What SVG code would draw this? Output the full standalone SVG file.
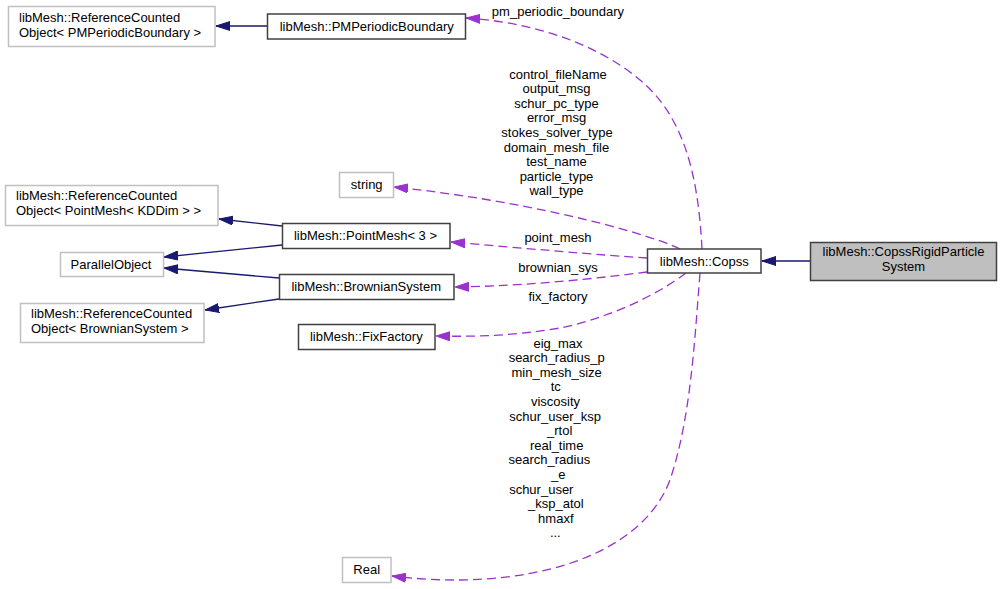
<svg xmlns="http://www.w3.org/2000/svg" width="1003" height="589" viewBox="0 0 1003 589">
<defs>
<style>
text{font-family:"Liberation Sans",Arial,Helvetica,sans-serif;font-size:13px;fill:#000}
.m{text-anchor:middle}
.s{text-anchor:start}
.doc{fill:#fff;stroke:#404040;stroke-width:1.5}
.und{fill:#fff;stroke:#c0c0c0;stroke-width:1.5}
.cur{fill:#bfbfbf;stroke:#404040;stroke-width:1.5}
.inh{fill:none;stroke:#191970;stroke-width:1.3}
.use{fill:none;stroke:#9a32cd;stroke-width:1.3;stroke-dasharray:9,5}
</style>
<marker id="an" markerUnits="userSpaceOnUse" markerWidth="14" markerHeight="10" viewBox="0 0 14 10" refX="14" refY="5" orient="auto">
<path d="M0,0.5 L14,5 L0,9.5 z" fill="#191970" stroke="#191970"/>
</marker>
<marker id="ap" markerUnits="userSpaceOnUse" markerWidth="14" markerHeight="10" viewBox="0 0 14 10" refX="14" refY="5" orient="auto">
<path d="M0,0.5 L14,5 L0,9.5 z" fill="#9a32cd" stroke="#9a32cd"/>
</marker>
</defs>
<rect width="1003" height="589" fill="#fff"/>

<g id="connectors">
<line class="inh" x1="810" y1="261" x2="762" y2="261" marker-end="url(#an)"/>
<line class="inh" x1="267" y1="26" x2="216" y2="26" marker-end="url(#an)"/>
<line class="inh" x1="282" y1="226" x2="219" y2="219" marker-end="url(#an)"/>
<line class="inh" x1="282" y1="245" x2="164" y2="257" marker-end="url(#an)"/>
<line class="inh" x1="279" y1="278" x2="164" y2="268" marker-end="url(#an)"/>
<line class="inh" x1="279" y1="299" x2="205" y2="310" marker-end="url(#an)"/>

<path class="use" d="M702,249 C698,170 682,115 640,80 C595,42 530,22 466,18" marker-end="url(#ap)"/>
<path class="use" d="M680,249 C640,230 520,200 394,187" marker-end="url(#ap)"/>
<path class="use" d="M647,258 C600,255 520,248 451,242" marker-end="url(#ap)"/>
<path class="use" d="M647,272 C600,278 530,286 455,287" marker-end="url(#ap)"/>
<path class="use" d="M686,273 C650,300 600,320 560,328 C520,335 480,337 436,336" marker-end="url(#ap)"/>
<path class="use" d="M700,273 C694,350 690,420 670,480 C640,560 520,592 392,576" marker-end="url(#ap)"/>

<text class="m" x="558" y="15.5">pm_periodic_boundary</text>
<text class="m" x="558" y="78.5">control_fileName</text>
<text class="m" x="556.5" y="93.1">output_msg</text>
<text class="m" x="556.5" y="107.7">schur_pc_type</text>
<text class="m" x="556.5" y="122.3">error_msg</text>
<text class="m" x="557" y="136.9">stokes_solver_type</text>
<text class="m" x="556.5" y="151.5">domain_mesh_file</text>
<text class="m" x="556.5" y="166.1">test_name</text>
<text class="m" x="556.5" y="180.7">particle_type</text>
<text class="m" x="556.5" y="195.3">wall_type</text>
<text class="m" x="558" y="242">point_mesh</text>
<text class="m" x="558" y="272">brownian_sys</text>
<text class="m" x="558" y="301">fix_factory</text>
<text class="m" x="558" y="347.5">eig_max</text>
<text class="m" x="556.7" y="362.1">search_radius_p</text>
<text class="m" x="556.7" y="376.7">min_mesh_size</text>
<text class="m" x="555.7" y="391.3">tc</text>
<text class="m" x="555.5" y="405.9">viscosity</text>
<text class="m" x="555.2" y="420.5">schur_user_ksp</text>
<text class="m" x="559.7" y="435.1">_rtol</text>
<text class="m" x="556.7" y="449.7">real_time</text>
<text class="m" x="549.3" y="464.3">search_radius</text>
<text class="m" x="558.3" y="478.9">_e</text>
<text class="m" x="541.3" y="493.5">schur_user</text>
<text class="m" x="555.8" y="508.1">_ksp_atol</text>
<text class="m" x="555.8" y="522.7">hmaxf</text>
<text class="m" x="555.3" y="537.3">...</text>
</g>

<g id="node-copss-rigid">
<rect class="cur" x="810.5" y="242.5" width="186" height="38"/>
<text class="m" x="903.5" y="256">libMesh::CopssRigidParticle</text>
<text class="m" x="903.5" y="271">System</text>
</g>

<g id="node-copss">
<rect class="doc" x="647.5" y="249" width="113.5" height="24"/>
<text class="m" x="704.3" y="265.5">libMesh::Copss</text>
</g>

<g id="node-pmpb">
<rect class="doc" x="267.5" y="14" width="198" height="25"/>
<text class="m" x="366.7" y="30.5">libMesh::PMPeriodicBoundary</text>
</g>

<g id="node-rc-pmpb">
<rect class="und" x="8.5" y="6.5" width="206.5" height="40"/>
<text class="s" x="19" y="22">libMesh::ReferenceCounted</text>
<text class="s" x="19" y="37">Object&lt; PMPeriodicBoundary &gt;</text>
</g>

<g id="node-string">
<rect class="und" x="339.5" y="172.5" width="54" height="25"/>
<text class="m" x="366.7" y="188.5">string</text>
</g>

<g id="node-rc-pointmesh">
<rect class="und" x="5.5" y="185.5" width="212.5" height="40"/>
<text class="s" x="16" y="200">libMesh::ReferenceCounted</text>
<text class="s" x="16" y="215">Object&lt; PointMesh&lt; KDDim &gt; &gt;</text>
</g>

<g id="node-pointmesh">
<rect class="doc" x="282.5" y="223.5" width="167.5" height="25"/>
<text class="m" x="365.5" y="240">libMesh::PointMesh&lt; 3 &gt;</text>
</g>

<g id="node-parallelobject">
<rect class="und" x="60.5" y="252.5" width="103" height="24"/>
<text class="m" x="111" y="268.5">ParallelObject</text>
</g>

<g id="node-brownian">
<rect class="doc" x="279.5" y="274.5" width="174.5" height="25"/>
<text class="m" x="366.2" y="291">libMesh::BrownianSystem</text>
</g>

<g id="node-rc-brownian">
<rect class="und" x="20.5" y="303.5" width="183.5" height="39"/>
<text class="s" x="31" y="317.5">libMesh::ReferenceCounted</text>
<text class="s" x="31" y="332.5">Object&lt; BrownianSystem &gt;</text>
</g>

<g id="node-fixfactory">
<rect class="doc" x="298.5" y="324.5" width="136.5" height="25"/>
<text class="m" x="366.3" y="341">libMesh::FixFactory</text>
</g>

<g id="node-real">
<rect class="und" x="342.5" y="557.5" width="48.5" height="25"/>
<text class="m" x="366.7" y="574">Real</text>
</g>
</svg>
